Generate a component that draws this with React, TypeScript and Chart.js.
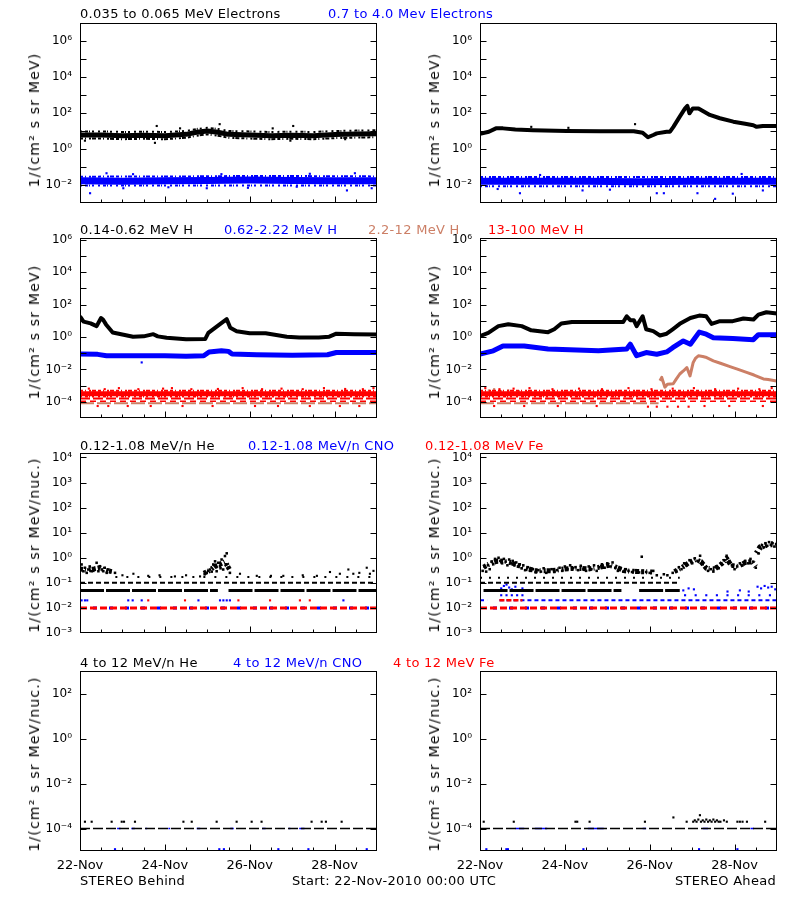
import React, { useEffect, useRef } from 'react';
import { Chart, registerables } from 'chart.js';

Chart.register(...registerables);

type P = [number, number];

const FONT = 'DejaVu Sans';
const BLACK = '#000000';
const BLUE = '#0000ff';
const RED = '#ff0000';
const SIENNA = '#cc7f66';

// ---------- time axis (hours since 22-Nov-2010 00:00 UTC) ----------
const spanHours = 168;
const xTickLabels = ['22-Nov', '24-Nov', '26-Nov', '28-Nov'];
const xLabelHours = [0, 48, 96, 144];
const xMinorHours = [12, 24, 36, 60, 72, 84, 108, 120, 132, 156];

// ---------- Row 1: electrons ----------
const behindE1: P[] = [[0,6],[12,6],[24,5.5],[36,5.8],[48,5.5],[60,6.5],[66,8.5],[72,10],[78,8.5],[84,6.5],[96,6],[108,5.5],[120,5.8],[132,5.5],[144,6.3],[156,6.8],[168,7]];
const behindE1Top: P[] = [[0,9.5],[12,9.5],[24,8.8],[36,9.2],[48,8.8],[60,10],[66,13],[72,15],[78,13],[84,10],[96,9.5],[108,8.8],[120,9.2],[132,8.8],[144,10],[156,10.5],[168,11]];
const behindE1Bot: P[] = [[0,3.8],[12,3.8],[24,3.5],[36,3.7],[48,3.5],[60,4.2],[66,5.5],[72,6.5],[78,5.5],[84,4.2],[96,3.8],[108,3.5],[120,3.7],[132,3.5],[144,4],[156,4.3],[168,4.5]];
const behindE1Out: P[] = [[2.8,2.9],[42.4,2.2],[43.4,19],[56.6,14],[79,24],[109,14],[119,2.9],[120.6,19],[150,3.5]];
const behindE2: P[] = [[0,0.017],[24,0.016],[48,0.017],[72,0.018],[96,0.019],[120,0.018],[144,0.017],[168,0.017]];
const behindE2Top: P[] = [[0,0.029],[60,0.03],[100,0.032],[168,0.03]];
const behindE2Bot: P[] = [[0,0.0095],[168,0.0095]];
const behindE2Out: P[] = [[5.7,0.0035],[15,0.045],[24.5,0.0066],[30,0.04],[50,0.0075],[71.7,0.0066],[80,0.04],[95,0.007],[122.6,0.008],[130,0.042],[151,0.005],[155.5,0.045],[165,0.0066]];

const aheadE1: P[] = [[0,7],[5,9],[9,14],[13,14],[20,12],[30,11],[49,10],[68,9.8],[87,9.8],[92,8],[95,4.5],[98,6],[100,7.4],[105.6,9],[107.5,9.2],[109.4,17],[113,63],[116,180],[117.3,245],[118.5,96],[120.4,180],[123.6,180],[130,78],[135.7,51],[143.3,33],[150,25],[154.6,21],[156.5,17],[160,19],[168,19]];
const aheadE1Out: P[] = [[29,17],[50,15],[87.7,24]];
const aheadE2: P[] = [[0,0.016],[30,0.016],[60,0.016],[90,0.015],[120,0.016],[150,0.016],[168,0.016]];
const aheadE2Top: P[] = [[0,0.028],[168,0.028]];
const aheadE2Bot: P[] = [[0,0.0085],[168,0.0085]];
const aheadE2Out: P[] = [[10,0.006],[22.6,0.0035],[34,0.036],[58,0.005],[73.5,0.0055],[100,0.0035],[104,0.0035],[123,0.0035],[133,0.0017],[143,0.0033],[148,0.041],[160,0.005]];

// ---------- Row 2: protons ----------
const behindH1: P[] = [[0,19],[2,9],[6,7],[9.4,4.7],[11.9,15],[13,12],[14.7,6],[18.5,1.9],[26,1.3],[30,1.05],[36,1.1],[41.5,1.5],[44,1.1],[49,0.9],[60,0.73],[70.8,0.75],[72.6,1.8],[79,6],[83,12.6],[85,3.7],[88.6,2.3],[96,1.7],[105,1.7],[117,1.05],[124,0.92],[135,0.95],[141,1.05],[145,1.6],[155,1.5],[168,1.45]];
const behindH2: P[] = [[0,0.09],[10,0.085],[15,0.07],[30,0.07],[48,0.07],[60,0.065],[70,0.07],[73,0.12],[80,0.14],[84,0.13],[86,0.09],[100,0.08],[120,0.075],[140,0.08],[145,0.11],[168,0.11]];
const behindH2Out: P[] = [[34.9,0.027]];
const behindH4Hi: P[] = [[5,0.00065],[14,0.0006],[22,0.0007],[33,0.0006],[47,0.00065],[52,0.0007],[63,0.0006],[78,0.00062],[92,0.0007],[103,0.0006],[114,0.00065],[126,0.0006],[138,0.0007],[150,0.00062],[160,0.0006],[166,0.0007]];
const behindH4Lo: P[] = [[10,5.5e-5],[16,5.5e-5],[27,5.5e-5],[40,5.5e-5],[58,5.5e-5],[75,5.5e-5],[99,5.5e-5],[112,5.5e-5],[130,5.5e-5],[147,5.5e-5],[158,5.5e-5]];

const aheadH1: P[] = [[0,1.15],[4.7,1.8],[10.4,4.7],[16,6.2],[23.6,4.7],[29,2.6],[38.5,2],[42,3],[46,6.9],[52,8.5],[67,8.5],[81,8.5],[83,19],[85,11],[87,11],[88.6,4.7],[92,19],[94,3],[98,2.3],[101.8,1.25],[105.6,1.6],[109,3],[113,6.5],[119,15],[124,21],[128,19],[131,6.5],[135.7,9.5],[143,9.5],[149,14],[154.7,12],[157.5,24],[162,34],[168,28]];
const aheadH2: P[] = [[0,0.087],[7.5,0.14],[13,0.28],[25,0.28],[38.5,0.18],[67,0.14],[83,0.18],[85,0.36],[88.6,0.07],[94,0.11],[100,0.087],[105.6,0.12],[109,0.22],[115,0.57],[119,0.36],[124,2],[128,1.5],[132,0.9],[143,0.8],[154.6,0.69],[157.5,1.4],[168,1.4]];
const aheadH3: P[] = [[101.8,2e-3],[102.8,3.2e-3],[104.6,8e-4],[106,1.2e-3],[109.3,1.3e-3],[111,2.5e-3],[113,5.2e-3],[115,8e-3],[117,0.013],[118.8,4e-3],[120.6,0.027],[122,0.05],[123.5,0.069],[126,0.062],[128.2,0.054],[132,0.034],[136,0.024],[141.4,0.015],[146,0.01],[150.8,6.6e-3],[155,4.5e-3],[160.3,2.6e-3],[163,2.4e-3],[166.9,2e-3],[168,1.9e-3]];
const aheadH3Early: P[] = [[5,5e-4],[8,6e-4],[12,4.5e-4],[16,5e-4],[22,4.5e-4],[27,4e-4]];
const aheadH4Hi: P[] = [[3,0.0007],[11,0.0006],[19,0.00065],[28,0.0007],[41,0.0006],[56,0.00065],[69,0.0006],[84,0.0007],[97,0.0006],[109,0.00065],[121,0.0007],[133,0.0006],[146,0.00065],[158,0.0006],[165,0.0007]];
const aheadH4Lo: P[] = [[8,5.5e-5],[25,5.5e-5],[44,5.5e-5],[66,5.5e-5],[95,5e-5],[100,5e-5],[106,5e-5],[112,5e-5],[118,5e-5],[127,5.5e-5],[141,5.5e-5],[160,5.5e-5]];

// ---------- Row 3: 0.12-1.08 MeV/n ions ----------
const behindHeBand1: P[] = [[0,0.36],[4,0.32],[8,0.36],[11,0.4],[14,0.32],[18,0.28]];
const behindHeBand2: P[] = [[70,0.24],[73,0.3],[76,0.45],[79,0.55],[82,0.7],[84.5,0.35]];
const behindHeEvents: P[] = [[0.9,0.54],[1.9,0.29],[2.8,0.4],[3.8,0.25],[4.7,0.34],[5.5,0.45],[6.6,0.29],[7.5,0.3],[9.4,0.63],[10.4,0.29],[11.3,0.46],[12.3,0.34],[13.2,0.29],[14,0.4],[15.1,0.25],[16,0.34],[17,0.28],[19.8,0.25],[70.5,0.22],[71.7,0.25],[72.5,0.3],[73.5,0.34],[74.5,0.28],[75.4,0.54],[76.4,0.72],[77,0.42],[77.3,0.29],[78.2,0.63],[79.2,0.46],[79.5,0.38],[80.1,0.85],[81,0.34],[82,1.17],[82.5,0.55],[83,1.5],[83.9,0.4],[84.8,0.25]];
const behindHeSparse: P[] = [[24,0.2],[30.2,0.23],[38.6,0.19],[45,0.2],[53.7,0.18],[60,0.2],[67.9,0.18],[90.5,0.23],[100,0.19],[108,0.19],[115,0.19],[126,0.2],[134,0.19],[141.4,0.27],[147,0.23],[151.8,0.34],[154.6,0.23],[158,0.25],[162.2,0.4],[164,0.23],[166,0.3]];
const behindHe05Spans: P[] = [[0,78],[84,168]];
const behindCno02: P[] = [[0.9,0.02],[2.8,0.02],[4.1,0.02],[27.3,0.02],[29.8,0.02],[34.9,0.02],[67,0.02],[79.2,0.02],[81.1,0.02],[83,0.02],[84.8,0.02],[149,0.02]];
const behindFe02: P[] = [[38.6,0.02],[59.4,0.02],[89.6,0.02],[107.5,0.02],[124.4,0.02],[130,0.02]];

const aheadHeBand1: P[] = [[2,0.42],[6,0.6],[10,0.75],[14,0.72],[18,0.62],[22,0.48],[26,0.38],[32,0.3],[40,0.3],[48,0.36],[55,0.38],[62,0.36],[68,0.42],[73,0.5],[77,0.42],[82,0.3],[90,0.28],[98,0.27]];
const aheadHeBand2: P[] = [[110,0.28],[114,0.4],[118,0.62],[122,0.85],[125,0.7],[128,0.38],[133,0.36],[137,0.6],[139.5,0.95],[142,0.5],[146,0.45],[150,0.65],[154,0.7],[156,0.45]];
const aheadHeBand3: P[] = [[156.5,1.5],[158.5,2.6],[161,3.1],[164,3.5],[168,3.3]];
const aheadHeEvents: P[] = [[1.5,0.3],[2.5,0.45],[3.5,0.28],[4.5,0.5],[5.5,0.35],[6.5,0.7],[7.5,0.55],[8.5,0.9],[9.5,0.65],[10.5,1.0],[11.5,0.75],[12.5,0.6],[13.5,0.9],[14.5,0.7],[15.5,0.5],[16.5,0.85],[17.5,0.6],[18.5,0.75],[19.5,0.5],[20.5,0.65],[21.5,0.45],[22.5,0.55],[23.5,0.38],[24.5,0.5],[25.5,0.32],[27,0.42],[28.5,0.3],[30,0.35],[31.5,0.26],[33,0.32],[34.5,0.28],[36,0.38],[37.5,0.25],[39,0.3],[40.5,0.35],[42,0.27],[43.5,0.32],[45,0.4],[46.5,0.3],[48,0.45],[49.5,0.35],[51,0.5],[52.5,0.38],[54,0.42],[55.5,0.32],[57,0.48],[58.5,0.36],[60,0.3],[61.5,0.45],[63,0.35],[64.5,0.5],[66,0.3],[67.5,0.42],[69,0.55],[70.5,0.4],[72,0.6],[73.5,0.45],[75,0.65],[76.5,0.4],[78,0.3],[79.5,0.38],[81,0.28],[82.5,0.35],[84,0.3],[86,0.27],[88,0.32],[90,0.26],[91.5,1.1],[92,0.3],[94,0.27],[96,0.25],[98,0.3],[100,0.2],[104,0.22],[106,0.2],[109,0.25],[111,0.3],[112.5,0.42],[114,0.35],[115.5,0.6],[117,0.5],[118.5,0.8],[120,0.6],[121.5,0.95],[123,0.75],[124.5,1.2],[126,0.55],[127.5,0.4],[129,0.3],[130.5,0.35],[132,0.28],[133.5,0.45],[135,0.38],[136.5,0.6],[138,0.8],[139.5,1.2],[141,0.7],[142.5,0.5],[144,0.35],[145.5,0.45],[147,0.6],[148.5,0.5],[150,0.75],[151.5,0.6],[153,0.9],[154.5,0.7],[156,0.4],[157.5,1.5],[158.5,2.5],[159.5,3.2],[160.5,2.6],[161.5,3.8],[162.5,3.0],[163.5,4.2],[164.5,3.3],[165.5,3.8],[166.5,2.8],[167.5,3.5]];
const aheadHe05Spans: P[] = [[2,80],[90,113]];
const aheadHe10Spans: P[] = [[0,113]];
const aheadCno02Spans: P[] = [[0,4],[11,168]];
const aheadCnoBumps: P[] = [[12,0.06],[13.5,0.075],[15,0.085],[16.5,0.065],[18,0.055],[20,0.07],[22,0.05],[24,0.06],[115,0.05],[118,0.06],[121,0.055],[140,0.045],[147,0.05],[152,0.045],[157,0.07],[159,0.06],[161,0.075],[163,0.065],[165,0.07],[167,0.055]];
const aheadCno03: P[] = [[12,0.032],[15,0.032],[18,0.032],[21,0.032],[24,0.032],[116,0.032],[122,0.032],[128,0.032],[134,0.032],[140,0.032],[146,0.032],[152,0.032],[158,0.032],[164,0.032]];
const aheadFe02Spans: P[] = [[11,24]];

// ---------- Row 4: 4-12 MeV/n ions ----------
const behindHe4Dots: P[] = [[2.8,2e-4],[6.6,2e-4],[17.9,2e-4],[23.6,2e-4],[24.9,2e-4],[31.1,2e-4],[58.5,2e-4],[63.2,2e-4],[77.3,2e-4],[88.6,2e-4],[97.1,2e-4],[102.7,2e-4],[131,2e-4],[136.7,2e-4],[139.1,2e-4],[148,2e-4]];
const behindCno4Low: P[] = [[19.8,1.2e-5],[78.8,1.2e-5],[81.4,1.2e-5],[112.2,1.2e-5],[129.2,1.2e-5],[162.2,1.2e-5]];
const behindCno4Spans: P[] = [[21,23],[29,31],[37,38],[50,51],[66,68],[85,87],[103,105],[118,119],[124,127]];

const aheadHe4Dots: P[] = [[2.1,2e-4],[19.1,2e-4],[54,2e-4],[55,2e-4],[62,2e-4],[93.3,2e-4],[109.4,3.1e-4],[116.9,2e-4],[120.6,2e-4],[121.5,2.3e-4],[122.5,2e-4],[123.5,2.5e-4],[124.4,3.9e-4],[125,2e-4],[126,2.3e-4],[127,2e-4],[128,2.5e-4],[129,2e-4],[130,2.3e-4],[131,2e-4],[132,2.5e-4],[133,2e-4],[134,2.3e-4],[135,2e-4],[136,2e-4],[138,2.3e-4],[139.6,2e-4],[145.6,2e-4],[147,2e-4],[148.5,2e-4],[151,2e-4],[161.3,2e-4]];
const aheadCno4Low: P[] = [[3.6,1.2e-5],[14.9,1.2e-5],[15.8,1.2e-5],[58.5,1.2e-5],[123.9,1.2e-5],[145.6,1.2e-5]];
const aheadCno4Spans: P[] = [[20,25],[31,38],[61,70],[92,94],[126,129],[153,155]];

const fullSpan: P[] = [[0, spanHours]];

// ---------- dataset helpers ----------
const toXY = (a: P[]) => a.map(([x, y]) => ({ x, y }));
const band = (a: P[], color: string, w: number, dash: number[] = [], dashOffset = 0) => ({
  data: toXY(a), showLine: true, borderColor: color, backgroundColor: color,
  borderWidth: w, borderDash: dash, borderDashOffset: dashOffset, pointRadius: 0, borderJoinStyle: 'round', clip: 0,
});
const dots = (a: P[], color: string, r = 1.5) => ({
  data: toXY(a), showLine: false, pointStyle: 'rect', pointRadius: r,
  pointBorderWidth: 0, backgroundColor: color, borderColor: color, clip: 0,
});
const level = (v: number, spans: P[], color: string, w: number, dash: number[] = [], dashOffset = 0) => {
  const data: any[] = [];
  spans.forEach(([a, b]) => { data.push({ x: a, y: v }, { x: b, y: v }, { x: b, y: null }); });
  return {
    data, showLine: true, spanGaps: false, borderColor: color, backgroundColor: color,
    borderWidth: w, borderDash: dash, borderDashOffset: dashOffset, pointRadius: 0, clip: 0,
  };
};

// ragged edge pattern for noisy bands
const edgeA = [3, 2, 1, 3, 2, 1, 4, 2];
const edgeB = [2, 3, 3, 1, 1, 2, 2, 4];

// ---------- rows ----------
const rows = [
  { top: 23, min: 1e-3, max: 1e7, tickExps: [-2,-1,0,1,2,3,4,5,6], labelExps: [-2,0,2,4,6], yTitle: '1/(cm² s sr MeV)', yTitleC: 120, titleBase: 18 },
  { top: 238, min: 1e-5, max: 1.3e6, tickExps: [-4,-3,-2,-1,0,1,2,3,4,5,6], labelExps: [-4,-2,0,2,4,6], yTitle: '1/(cm² s sr MeV)', yTitleC: 332, titleBase: 234.3 },
  { top: 453, min: 1e-3, max: 1.5e4, tickExps: [-2,-1,0,1,2,3,4], labelExps: [-3,-2,-1,0,1,2,3,4], yTitle: '1/(cm² s sr MeV/nuc.)', yTitleC: 545, titleBase: 450 },
  { top: 671, min: 1e-5, max: 1e3, tickExps: [-4,-2,0,2], labelExps: [-4,-2,0,2], yTitle: '1/(cm² s sr MeV/nuc.)', yTitleC: 764, titleBase: 666.7 },
];

const rowTitles = [
  [{ t: '0.035 to 0.065 MeV Electrons', c: BLACK, x: 80 }, { t: '0.7 to 4.0 Mev Electrons', c: BLUE, x: 328 }],
  [{ t: '0.14-0.62 MeV H', c: BLACK, x: 80 }, { t: '0.62-2.22 MeV H', c: BLUE, x: 224 }, { t: '2.2-12 MeV H', c: SIENNA, x: 368 }, { t: '13-100 MeV H', c: RED, x: 488 }],
  [{ t: '0.12-1.08 MeV/n He', c: BLACK, x: 80 }, { t: '0.12-1.08 MeV/n CNO', c: BLUE, x: 248 }, { t: '0.12-1.08 MeV Fe', c: RED, x: 425 }],
  [{ t: '4 to 12 MeV/n He', c: BLACK, x: 80 }, { t: '4 to 12 MeV/n CNO', c: BLUE, x: 233 }, { t: '4 to 12 MeV Fe', c: RED, x: 393 }],
];

const redBandLevel = 3.1e-4;
const redBandTop = 4.9e-4;
const redBandBot = 2.1e-4;
const redLine1 = 1.6e-4;
const redLine2 = 1.1e-4;
const siennaFlat = 8e-5;

const panelData = (row: number, side: number): any[] => {
  if (row === 0) {
    return side === 0
      ? [band(behindE2, BLUE, 7), band(behindE2Top, BLUE, 2, edgeA), band(behindE2Bot, BLUE, 2, edgeB), dots(behindE2Out, BLUE),
         band(behindE1, BLACK, 5), band(behindE1Top, BLACK, 2, edgeB), band(behindE1Bot, BLACK, 2, edgeA), dots(behindE1Out, BLACK)]
      : [band(aheadE2, BLUE, 7), band(aheadE2Top, BLUE, 2, edgeA), band(aheadE2Bot, BLUE, 2, edgeB), dots(aheadE2Out, BLUE),
         band(aheadE1, BLACK, 4), dots(aheadE1Out, BLACK)];
  }
  if (row === 1) {
    const reds = (hi: P[], lo: P[]) => [
      level(redBandLevel, fullSpan, RED, 5),
      level(redBandTop, fullSpan, RED, 2, edgeA),
      level(redBandBot, fullSpan, RED, 2, edgeB),
      dots(hi, RED),
      level(redLine1, fullSpan, RED, 2, [10, 3]),
      level(redLine2, fullSpan, RED, 1.5, [6, 4]),
      dots(lo, RED),
    ];
    return side === 0
      ? [...reds(behindH4Hi, behindH4Lo), level(siennaFlat, fullSpan, SIENNA, 2, [14, 3]),
         band(behindH2, BLUE, 5), dots(behindH2Out, BLUE), band(behindH1, BLACK, 4)]
      : [...reds(aheadH4Hi, aheadH4Lo), level(siennaFlat, [[0, 101]], SIENNA, 2, [14, 3]),
         dots(aheadH3Early, SIENNA), band(aheadH3, SIENNA, 3),
         band(aheadH2, BLUE, 5), band(aheadH1, BLACK, 4)];
  }
  if (row === 2) {
    return side === 0
      ? [level(0.05, behindHe05Spans, BLACK, 3, [24, 2]), level(0.1, fullSpan, BLACK, 2, [5, 3]),
         level(0.17, [[20, 168]], BLACK, 2, [2, 9]), dots(behindHeSparse, BLACK),
         band(behindHeBand1, BLACK, 5, edgeA), band(behindHeBand2, BLACK, 5, edgeA),
         dots(behindHeEvents, BLACK, 1.8),
         level(0.01, fullSpan, RED, 3, [7, 3]), level(0.01, fullSpan, BLUE, 3, [4, 12], 3),
         dots(behindCno02, BLUE), dots(behindFe02, RED)]
      : [level(0.05, aheadHe05Spans, BLACK, 3, [24, 2]), level(0.1, aheadHe10Spans, BLACK, 2, [5, 3]),
         level(0.16, aheadHe10Spans, BLACK, 2, [2, 7]),
         band(aheadHeBand1, BLACK, 5, edgeA), band(aheadHeBand2, BLACK, 5, edgeA),
         band(aheadHeBand3, BLACK, 6, edgeB),
         dots(aheadHeEvents, BLACK, 1.8),
         level(0.01, fullSpan, RED, 3, [7, 3]), level(0.01, fullSpan, BLUE, 3, [4, 12], 3),
         level(0.02, aheadFe02Spans, RED, 2.5, [5, 2]),
         level(0.02, aheadCno02Spans, BLUE, 2, [4, 3]), dots(aheadCno03, BLUE), dots(aheadCnoBumps, BLUE)];
  }
  return side === 0
    ? [level(1e-4, fullSpan, BLACK, 1.5, [10, 3]), level(1e-4, behindCno4Spans, BLUE, 1.5),
       dots(behindHe4Dots, BLACK), dots(behindCno4Low, BLUE)]
    : [level(1e-4, fullSpan, BLACK, 1.5, [10, 3]), level(1e-4, aheadCno4Spans, BLUE, 1.5),
       dots(aheadHe4Dots, BLACK), dots(aheadCno4Low, BLUE)];
};

const SUP: Record<string, string> = { '-': '⁻', '0': '⁰', '1': '¹', '2': '²', '3': '³', '4': '⁴', '5': '⁵', '6': '⁶', '7': '⁷' };
const fmtPow = (v: number) => {
  const e = Math.round(Math.log10(v));
  return '10' + String(e).split('').map((ch) => SUP[ch] || ch).join('');
};

const makeFrame = (tickExps: number[]) => ({
  id: 'frame',
  afterDraw(chart: any) {
    const { ctx, chartArea: a } = chart;
    const ys = chart.scales.y;
    const xs = chart.scales.x;
    const L = Math.round(a.left) + 0.5;
    const R = Math.round(a.right) - 0.5;
    const T = Math.round(a.top) + 0.5;
    const B = Math.round(a.bottom) - 0.5;
    ctx.save();
    ctx.strokeStyle = '#000';
    ctx.lineWidth = 1;
    ctx.strokeRect(L, T, R - L, B - T);
    ctx.beginPath();
    tickExps.forEach((e) => {
      const y = Math.round(ys.getPixelForValue(Math.pow(10, e))) + 0.5;
      ctx.moveTo(L, y); ctx.lineTo(L + 6, y);
      ctx.moveTo(R, y); ctx.lineTo(R - 6, y);
    });
    xLabelHours.forEach((h) => {
      const x = Math.round(xs.getPixelForValue(h)) + 0.5;
      ctx.moveTo(x, B); ctx.lineTo(x, B - 6);
    });
    xMinorHours.forEach((h) => {
      const x = Math.round(xs.getPixelForValue(h)) + 0.5;
      ctx.moveTo(x, B); ctx.lineTo(x, B - 3);
    });
    ctx.stroke();
    ctx.restore();
  },
});

const PAD = 18;
const BOX_H = 180;
const X_AXIS_H = 22;

function Panel({ row, side }: { row: number; side: number }) {
  const ref = useRef<HTMLCanvasElement>(null);
  const r = rows[row];
  const showX = row === 3;
  const bottomExtra = showX ? X_AXIS_H + 4 : PAD;
  const height = PAD + BOX_H + bottomExtra;
  useEffect(() => {
    const chart = new Chart(ref.current as HTMLCanvasElement, {
      type: 'scatter',
      data: { datasets: panelData(row, side) },
      options: {
        animation: false,
        responsive: false,
        events: [],
        layout: { padding: { top: PAD, right: 23, left: 0, bottom: showX ? 4 : PAD } },
        plugins: { legend: { display: false }, tooltip: { enabled: false } },
        scales: {
          x: {
            type: 'linear', min: 0, max: spanHours, display: showX,
            grid: { display: false, drawTicks: false }, border: { display: false },
            ticks: {
              stepSize: 48, autoSkip: false, maxRotation: 0, padding: 7, color: '#000',
              font: { size: 13, family: FONT },
              callback: (v: any) => { const i = xLabelHours.indexOf(Number(v)); return i >= 0 ? xTickLabels[i] : ''; },
            },
            afterFit: (s: any) => { s.height = showX ? X_AXIS_H : 0; },
          },
          y: {
            type: 'logarithmic', min: r.min, max: r.max,
            grid: { display: false, drawTicks: false }, border: { display: false },
            afterBuildTicks: (s: any) => { s.ticks = r.labelExps.map((e) => ({ value: Math.pow(10, e) })); },
            afterFit: (s: any) => { s.width = 80; },
            ticks: {
              autoSkip: false, padding: 8, color: '#000',
              font: { size: 12, family: FONT },
              callback: (v: any) => fmtPow(Number(v)),
            },
          },
        },
      } as any,
      plugins: [makeFrame(r.tickExps)],
    } as any);
    return () => chart.destroy();
  }, [row, side]);
  return (
    <canvas
      ref={ref}
      width={400}
      height={height}
      style={{ position: 'absolute', left: side * 400, top: r.top - PAD, width: 400, height }}
    />
  );
}

const textStyle: React.CSSProperties = {
  position: 'absolute', fontFamily: FONT, fontSize: 13, lineHeight: '15px', letterSpacing: '0.3px', whiteSpace: 'nowrap',
};
const BASE_OFF = 12.1;

export default function App() {
  return (
    <div style={{ position: 'absolute', left: 0, top: 0, width: 800, height: 900, background: '#fff', overflow: 'hidden' }}>
      {rows.map((r, ri) => (
        <React.Fragment key={ri}>
          <Panel row={ri} side={0} />
          <Panel row={ri} side={1} />
          {rowTitles[ri].map((t, ti) => (
            <div key={ti} style={{ ...textStyle, left: t.x, top: r.titleBase - BASE_OFF, color: t.c }}>{t.t}</div>
          ))}
          {[0, 1].map((side) => (
            <div
              key={'yt' + side}
              style={{
                position: 'absolute', left: side * 400 + 34, top: r.yTitleC, fontFamily: FONT, fontSize: 14,
                lineHeight: '16px', letterSpacing: '1.2px', whiteSpace: 'nowrap', color: '#000',
                transform: 'translate(-50%, -50%) rotate(-90deg)',
              }}
            >
              {r.yTitle}
            </div>
          ))}
        </React.Fragment>
      ))}
      <div style={{ ...textStyle, left: 80, top: 885 - BASE_OFF }}>STEREO Behind</div>
      <div style={{ ...textStyle, left: 292, top: 885 - BASE_OFF }}>Start: 22-Nov-2010 00:00 UTC</div>
      <div style={{ ...textStyle, right: 24, top: 885 - BASE_OFF, textAlign: 'right' }}>STEREO Ahead</div>
    </div>
  );
}
